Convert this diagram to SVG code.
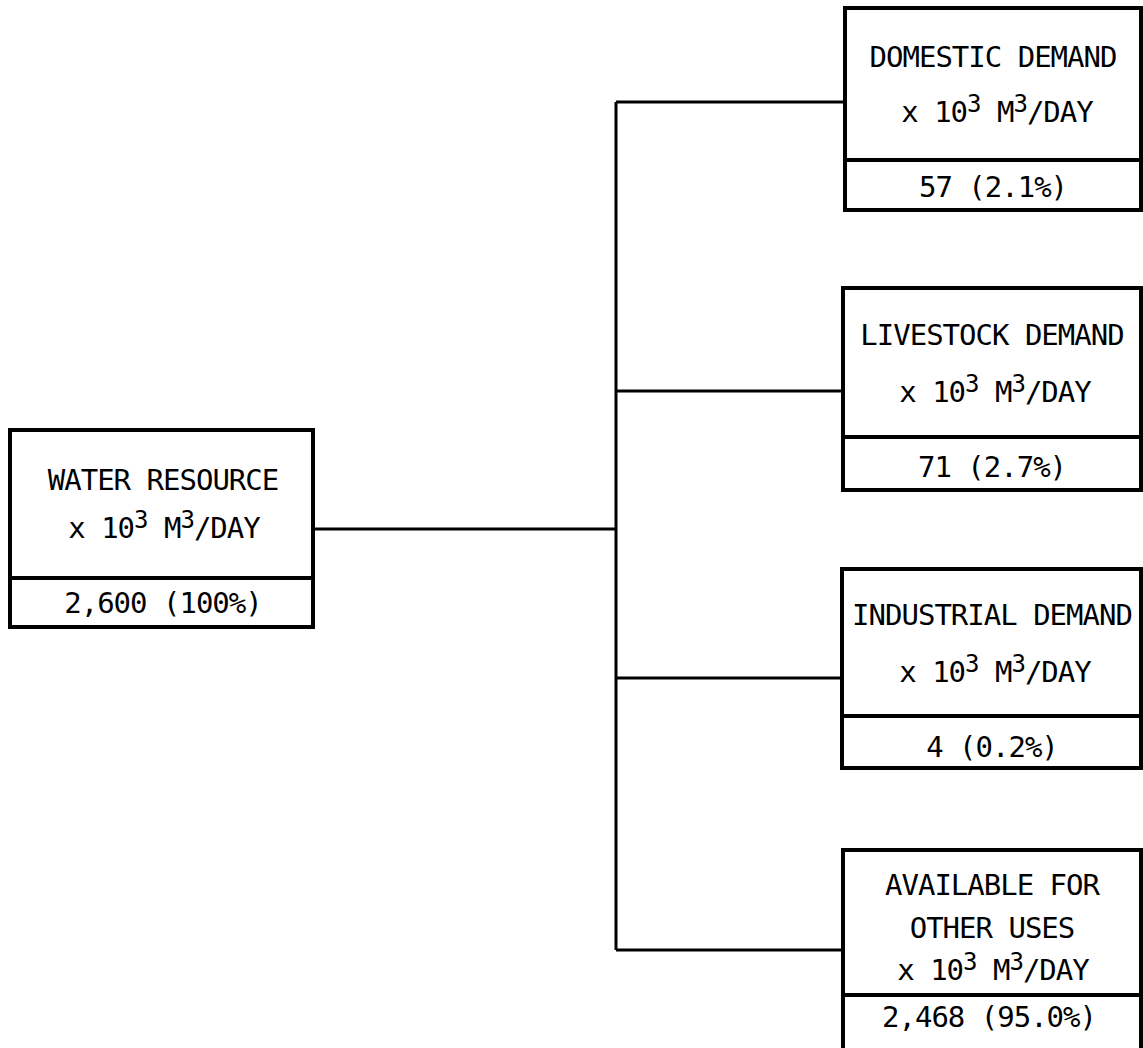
<svg xmlns="http://www.w3.org/2000/svg" width="1143" height="1048" viewBox="0 0 1143 1048">
<style>
.box{fill:#fff;stroke:#000;stroke-width:4}
.div{stroke:#000;stroke-width:4}
.con{stroke:#000;stroke-width:3;fill:none}
text{font-family:"DejaVu Sans Mono","Liberation Mono",monospace;font-size:29px;letter-spacing:-1px;fill:#000;text-anchor:middle}
.sup{font-size:24px}
</style>
<rect width="1143" height="1048" fill="#fff"/>
<g id="connectors">
<line class="con" x1="313" y1="529" x2="616" y2="529"/>
<line class="con" x1="616" y1="102" x2="616" y2="950"/>
<line class="con" x1="616" y1="102" x2="843" y2="102"/>
<line class="con" x1="616" y1="391" x2="843" y2="391"/>
<line class="con" x1="616" y1="678" x2="843" y2="678"/>
<line class="con" x1="616" y1="950" x2="843" y2="950"/>
</g>
<g id="water">
<rect class="box" x="10" y="430" width="303" height="197"/>
<line class="div" x1="10" y1="578" x2="313" y2="578"/>
<text x="163" y="490">WATER RESOURCE</text>
<text x="164" y="538">x 10<tspan class="sup" dy="-10">3</tspan><tspan dy="10"> M</tspan><tspan class="sup" dy="-10">3</tspan><tspan dy="10">/DAY</tspan></text>
<text x="163" y="613">2,600 (100%)</text>
</g>
<g id="domestic">
<rect class="box" x="845" y="8" width="296" height="202"/>
<line class="div" x1="845" y1="160" x2="1141" y2="160"/>
<text x="993" y="67">DOMESTIC DEMAND</text>
<text x="997" y="122">x 10<tspan class="sup" dy="-10">3</tspan><tspan dy="10"> M</tspan><tspan class="sup" dy="-10">3</tspan><tspan dy="10">/DAY</tspan></text>
<text x="993" y="197">57 (2.1%)</text>
</g>
<g id="livestock">
<rect class="box" x="843" y="288" width="298" height="202"/>
<line class="div" x1="843" y1="437" x2="1141" y2="437"/>
<text x="992" y="345">LIVESTOCK DEMAND</text>
<text x="995" y="402">x 10<tspan class="sup" dy="-10">3</tspan><tspan dy="10"> M</tspan><tspan class="sup" dy="-10">3</tspan><tspan dy="10">/DAY</tspan></text>
<text x="992" y="477">71 (2.7%)</text>
</g>
<g id="industrial">
<rect class="box" x="842" y="569" width="299" height="199"/>
<line class="div" x1="842" y1="716" x2="1141" y2="716"/>
<text x="992" y="625">INDUSTRIAL DEMAND</text>
<text x="995" y="682">x 10<tspan class="sup" dy="-10">3</tspan><tspan dy="10"> M</tspan><tspan class="sup" dy="-10">3</tspan><tspan dy="10">/DAY</tspan></text>
<text x="992" y="757">4 (0.2%)</text>
</g>
<g id="available">
<rect class="box" x="843" y="850" width="298" height="210"/>
<line class="div" x1="843" y1="995" x2="1141" y2="995"/>
<text x="992" y="895">AVAILABLE FOR</text>
<text x="992" y="938">OTHER USES</text>
<text x="993" y="980">x 10<tspan class="sup" dy="-10">3</tspan><tspan dy="10"> M</tspan><tspan class="sup" dy="-10">3</tspan><tspan dy="10">/DAY</tspan></text>
<text x="989" y="1027">2,468 (95.0%)</text>
</g>
</svg>
